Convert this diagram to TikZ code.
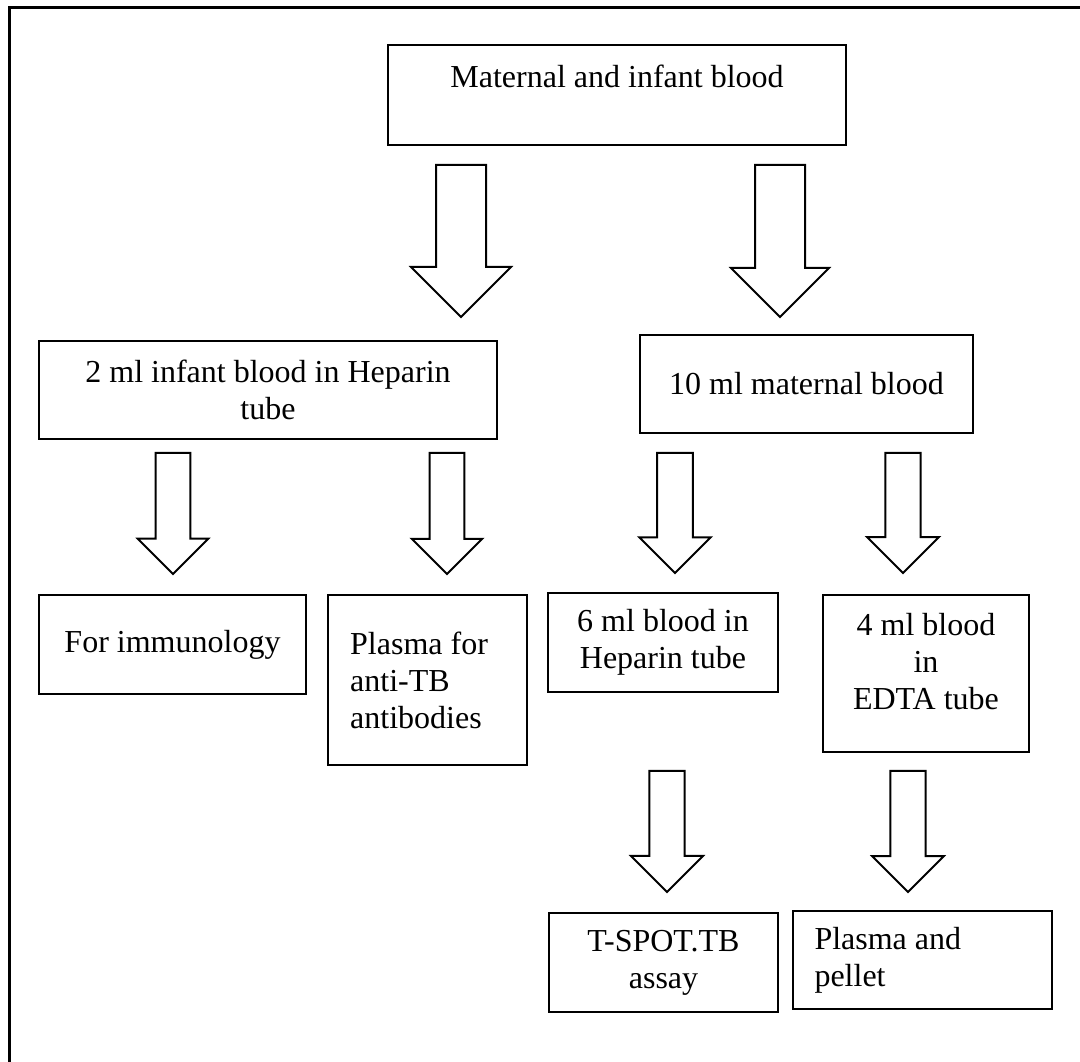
\documentclass[tikz,border=0pt]{standalone}
\usepackage{fontspec}
\setmainfont{Liberation Serif}
\usepackage{tikz}
\usetikzlibrary{calc}

% hollow block arrow: start, tip, half shaft, half head
\newcommand{\blockarr}[4]{%
	\draw[Arr] ($ (#1) + (-#3,0) $) -- ($ (#2) + (-#3,-#4) $) -- ($ (#2) + (-#4,-#4) $)
	-- (#2) -- ($ (#2) + (#4,-#4) $) -- ($ (#2) + (#3,-#4) $) -- ($ (#1) + (#3,0) $) -- cycle;}

\begin{document}
\begin{tikzpicture}[
x=0.375pt, y=-0.375pt,
Box/.style={rectangle, draw=black, line width=0.75pt, inner sep=0pt, align=center,
font=\fontsize{12}{13.9}\selectfont},
Arr/.style={draw=black, line width=0.75pt, fill=white, line join=miter},
]
	\useasboundingbox (0,0) rectangle (1080,1062);
	\draw[line width=0.9pt] (9.5,1062) -- (9.5,7.5) -- (1080,7.5);

	\node[
	Box, 
	minimum width=171.75pt, 
	minimum height=37.5pt, 
	text depth=14.2pt,
	] (MIB) 
	at (617,95)
	{Maternal and infant blood};
	\node[
	Box, 
	minimum width=124.9pt, 
	minimum height=36.75pt, 
	] (Mat) 
	at ($ (MIB) + (189.5,289) $)
	{10 ml maternal blood};
	\node[
	Box, 
	minimum width=171.75pt, 
	minimum height=36.75pt, 
	] (Inf) 
	at ($ (MIB) + (-349,295) $)
	{2 ml infant blood in Heparin\\ tube};

	\node[
	Box, 
	minimum width=100.1pt, 
	minimum height=37.1pt, 
	] (Imm) 
	at ($ (Inf) + (-95.5,254.5) $)
	{For immunology};
	\node[
	Box, 
	align=flush left,
	text width=58pt,
	inner xsep=8.3pt,
	minimum height=63.75pt, 
	] (Abs) 
	at ($ (Inf) + (159.5,290) $)
	{Plasma for\\ anti-TB\\ antibodies};
	\node[
	Box, 
	minimum width=86.25pt, 
	minimum height=37.1pt, 
	] (Hep) 
	at ($ (Mat) + (-143.5,258.5) $)
	{6 ml blood in\\ Heparin tube};
	\node[
	Box, 
	minimum width=77.25pt, 
	minimum height=58.9pt, 
	text depth=9pt,
	] (EDTA) 
	at ($ (Mat) + (119.5,289.5) $)
	{4 ml blood\\ in\\ EDTA tube};

	\node[
	Box, 
	minimum width=85.9pt, 
	minimum height=37.1pt, 
	] (TSpot) 
	at ($ (Hep) + (0.5,320) $)
	{T-SPOT.TB\\ assay};
	\node[
	Box, 
	align=flush left,
	text width=81pt,
	inner xsep=8.06pt,
	minimum height=36.75pt, 
	] (Pel) 
	at ($ (EDTA) + (-3.5,286.5) $)
	{Plasma and\\ pellet};

	% arrow ends
	\coordinate (A1s) at ($ (MIB) + (-156,70) $);
	\coordinate (A1e) at ($ (MIB) + (-156,222) $);
	\coordinate (A2s) at ($ (MIB) + (163,70) $);
	\coordinate (A2e) at ($ (MIB) + (163,222) $);
	\coordinate (A3s) at ($ (Inf) + (-95,63) $);
	\coordinate (A3e) at ($ (Inf) + (-95,184) $);
	\coordinate (A4s) at ($ (Inf) + (179,63) $);
	\coordinate (A4e) at ($ (Inf) + (179,184) $);
	\coordinate (A5s) at ($ (Mat) + (-131.5,69) $);
	\coordinate (A5e) at ($ (Mat) + (-131.5,189) $);
	\coordinate (A6s) at ($ (Mat) + (96.5,69) $);
	\coordinate (A6e) at ($ (Mat) + (96.5,189) $);
	\coordinate (A7s) at ($ (Hep) + (4,128.5) $);
	\coordinate (A7e) at ($ (Hep) + (4,249.5) $);
	\coordinate (A8s) at ($ (EDTA) + (-18,97.5) $);
	\coordinate (A8e) at ($ (EDTA) + (-18,218.5) $);

	\foreach \s/\e/\w/\h in {A1s/A1e/25/50, A2s/A2e/25/49,
		A3s/A3e/17.4/35.3, A4s/A4e/17.3/35.2, A5s/A5e/17.8/35.7,
		A6s/A6e/17.6/35.9, A7s/A7e/17.6/36, A8s/A8e/17.6/35.8}
	\blockarr{\s}{\e}{\w}{\h};
\end{tikzpicture}
\end{document}
